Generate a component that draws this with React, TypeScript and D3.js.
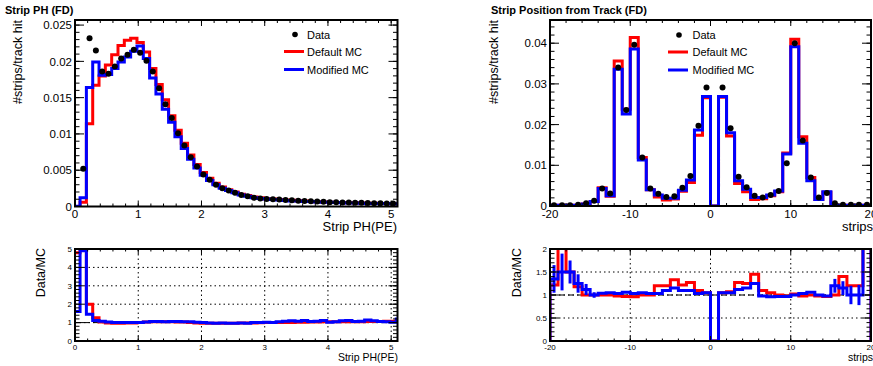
import React, { useEffect, useRef } from "react";
import * as d3 from "d3";

const W = 873;
const H = 366;
const FONT = "'Liberation Sans', Arial, Helvetica, sans-serif";

// ---------------- Strip PH (FD) ----------------
const phBinStart = -0.02;
const phBinWidth = 0.1;
const phData = [
  0.00005, 0.0052, 0.0232, 0.0215, 0.0186, 0.0183, 0.0193, 0.0204, 0.0209, 0.0216,
  0.0212, 0.0201, 0.0186, 0.0163, 0.0141, 0.0122, 0.0101, 0.0084, 0.0068, 0.0055,
  0.0044, 0.0037, 0.003, 0.0025, 0.0022, 0.0019, 0.0016, 0.0014, 0.0012, 0.0011,
  0.00105, 0.001, 0.00095, 0.0009, 0.00085, 0.0008, 0.00076, 0.00072, 0.00068, 0.00064,
  0.0006, 0.00058, 0.00056, 0.00054, 0.00052, 0.0005, 0.00048, 0.00046, 0.00044, 0.00042,
  0.0004, 0.0004,
];
const phDefault = [
  0.00001, 0.0006, 0.0114, 0.0167, 0.018, 0.0195, 0.0209, 0.0222, 0.0229, 0.0232,
  0.0226, 0.0213, 0.019, 0.0168, 0.0147, 0.0125, 0.0105, 0.0087, 0.0071, 0.0058,
  0.0047, 0.0039, 0.0032, 0.0027, 0.0023, 0.002, 0.0017, 0.0015, 0.0013, 0.0012,
  0.00108, 0.00102, 0.00096, 0.0009, 0.00085, 0.00079, 0.00075, 0.0007, 0.00066, 0.00062,
  0.00058, 0.00056, 0.00054, 0.00052, 0.0005, 0.00048, 0.00046, 0.00044, 0.00042, 0.0004,
  0.00038, 0.00037,
];
const phModified = [
  0.00003, 0.0012, 0.0164, 0.0199, 0.0181, 0.0182, 0.019, 0.0199, 0.0206, 0.0214,
  0.0221, 0.0204, 0.0177, 0.0155, 0.0134, 0.0116, 0.0096, 0.008, 0.0065, 0.0053,
  0.0043, 0.0036, 0.003, 0.0025, 0.0022, 0.0019, 0.0016, 0.0014, 0.0012, 0.0011,
  0.00103, 0.00098, 0.0009, 0.00083, 0.00077, 0.00075, 0.00068, 0.00068, 0.00063, 0.00058,
  0.00059, 0.00055, 0.00051, 0.00048, 0.00049, 0.00046, 0.00042, 0.00042, 0.00042, 0.0004,
  0.00039, 0.00033,
];
const phRatioDefault = [
  4.8, 5.5, 2.0, 1.27, 1.03, 0.98, 0.97, 0.97, 0.98, 0.98,
  1.0, 1.03, 1.05, 1.05, 1.04, 1.04, 1.03, 1.03, 1.0, 0.98,
  0.97, 0.96, 0.96, 0.97, 0.97, 0.97, 0.98, 0.98, 0.98, 0.99,
  1.0, 1.0, 1.0, 1.01, 1.01, 1.02, 1.02, 1.03, 1.03, 1.04,
  1.04, 1.04, 1.05, 1.05, 1.05, 1.05, 1.06, 1.06, 1.06, 1.07,
  1.07, 1.08,
];
const phRatioModified = [
  1.6, 4.9, 1.45, 1.12, 1.07, 1.03, 1.0, 1.0, 1.0, 1.01,
  1.0, 1.03, 1.06, 1.06, 1.05, 1.06, 1.06, 1.05, 1.04, 1.02,
  1.0, 0.98, 0.97, 0.98, 0.97, 0.96, 0.98, 0.97, 1.0, 1.0,
  1.02, 1.01, 1.05, 1.08, 1.1, 1.07, 1.12, 1.06, 1.08, 1.11,
  1.02, 1.05, 1.1, 1.12, 1.06, 1.08, 1.14, 1.1, 1.06, 1.04,
  1.02, 1.2,
];

// ---------------- Strip Position from Track (FD) ----------------
const stripBinStart = -20;
const stripBinWidth = 1;
const stripData = [
  0.0002, 0.0002, 0.0002, 0.0003, 0.0007, 0.0013, 0.0043, 0.0031, 0.034, 0.0236,
  0.0396, 0.0119, 0.0043, 0.003, 0.0022, 0.0024, 0.0045, 0.0074, 0.0197, 0.0291,
  0.0, 0.0291, 0.0191, 0.0072, 0.0046, 0.0025, 0.0021, 0.0027, 0.0037, 0.0105,
  0.04, 0.0161, 0.007, 0.0021, 0.0032, 0.0007, 0.0003, 0.0003, 0.0003, 0.0003,
];
const stripDefault = [
  0.0002, 0.0002, 0.0002, 0.0002, 0.0005, 0.0011, 0.0045, 0.0024, 0.0356, 0.0238,
  0.0414, 0.0119, 0.004, 0.0022, 0.0015, 0.0017, 0.0036, 0.0058, 0.0174, 0.0266,
  0.0, 0.0267, 0.0172, 0.0055, 0.0035, 0.0016, 0.0018, 0.0025, 0.0035, 0.013,
  0.041, 0.017, 0.007, 0.0016, 0.0034, 0.0002, 0.0002, 0.0002, 0.0002, 0.0002,
];
const stripModified = [
  0.0002, 0.0002, 0.0002, 0.0002, 0.0005, 0.0011, 0.0043, 0.0025, 0.0336, 0.0226,
  0.0386, 0.0113, 0.004, 0.0027, 0.0019, 0.0019, 0.0039, 0.0064, 0.0187, 0.0269,
  0.0, 0.0269, 0.018, 0.0062, 0.0041, 0.0021, 0.0021, 0.0027, 0.0037, 0.0128,
  0.0391, 0.0154, 0.0062, 0.0016, 0.0035, 0.0002, 0.0002, 0.0002, 0.0002, 0.0002,
];
const stripRatioDefault = [
  1.22, 2.3, 1.5, 1.18, 1.0, 1.0, 1.0, 1.0, 0.98, 0.97,
  0.96, 1.0, 1.0, 1.2, 1.2, 1.33, 1.22, 1.27, 1.1, 1.05,
  0.0, 1.05, 1.07, 1.27, 1.25, 1.45, 1.1, 1.05, 1.0, 0.98,
  1.02, 0.98, 1.0, 0.98, 0.97, 1.0, 1.4, 1.2, 1.2, 2.3,
];
const stripRatioModified = [
  1.35, 1.5, 1.5, 1.25, 1.12, 1.0, 1.04, 1.05, 1.03, 1.06,
  1.03, 1.05, 1.03, 1.03, 1.1, 1.15, 1.1, 1.1, 1.03, 1.05,
  0.0, 1.05, 1.05, 1.12, 1.15, 1.25, 0.98, 0.96, 0.97, 0.97,
  1.0, 1.03, 1.06, 1.0, 0.98, 1.2, 1.15, 1.0, 1.0, 2.3,
];
const stripRatioModifiedErr = [
  0.3, 0.4, 0.25, 0.2, 0.12, 0.06, 0.03, 0.03, 0.02, 0.02,
  0.02, 0.02, 0.03, 0.03, 0.03, 0.03, 0.03, 0.03, 0.02, 0.02,
  0.0, 0.02, 0.02, 0.03, 0.03, 0.03, 0.03, 0.03, 0.03, 0.02,
  0.02, 0.02, 0.03, 0.04, 0.04, 0.15, 0.15, 0.2, 0.22, 0.0,
];

const RED = "#ff0000";
const BLUE = "#0000ff";

type Scale = d3.ScaleLinear<number, number>;

function binEdges(start: number, width: number, n: number) {
  return d3.range(n + 1).map((i) => start + i * width);
}

function stepPath(x: Scale, y: Scale, e: number[], v: number[]) {
  let p = `M${x(e[0])},${y(0)}`;
  v.forEach((val, i) => {
    p += `L${x(e[i])},${y(val)}L${x(e[i + 1])},${y(val)}`;
  });
  p += `L${x(e[e.length - 1])},${y(0)}`;
  return p;
}

function ticksOf(lo: number, hi: number, step: number) {
  const out: number[] = [];
  const n = Math.floor((hi - lo) / step + 1e-6);
  for (let i = 0; i <= n; i++) out.push(+(lo + i * step).toFixed(6));
  return out;
}

interface FrameOpts {
  id: string;
  xMajor: number[];
  xMinor: number[];
  yMajor: number[];
  yMinor: number[];
  xMajLen: number;
  xMinLen: number;
  yMajLen: number;
  yMinLen: number;
  xLabelSize: number;
  yLabelSize: number;
  xLabelBaseline: number;
  grid?: boolean;
  refLine?: number;
  yFmt: (v: number) => string;
}

function drawAxes(g: d3.Selection<SVGGElement, unknown, null, undefined>, x: Scale, y: Scale, o: FrameOpts) {
  const [X0, X1] = x.range();
  const [Y0, Y1] = y.range(); // Y0 bottom, Y1 top
  const t = g.append("g").attr("stroke", "#000").attr("stroke-width", 1);
  const addX = (vals: number[], len: number) => {
    vals.forEach((v) => {
      const px = x(v);
      if (px < X0 - 0.1 || px > X1 + 0.1) return;
      t.append("line").attr("x1", px).attr("x2", px).attr("y1", Y0).attr("y2", Y0 - len);
      t.append("line").attr("x1", px).attr("x2", px).attr("y1", Y1).attr("y2", Y1 + len);
    });
  };
  const addY = (vals: number[], len: number) => {
    vals.forEach((v) => {
      const py = y(v);
      if (py > Y0 + 0.1 || py < Y1 - 0.1) return;
      t.append("line").attr("x1", X0).attr("x2", X0 + len).attr("y1", py).attr("y2", py);
      t.append("line").attr("x1", X1).attr("x2", X1 - len).attr("y1", py).attr("y2", py);
    });
  };
  addX(o.xMinor, o.xMinLen);
  addX(o.xMajor, o.xMajLen);
  addY(o.yMinor, o.yMinLen);
  addY(o.yMajor, o.yMajLen);

  // tick labels
  g.append("g")
    .selectAll("text")
    .data(o.xMajor)
    .join("text")
    .attr("x", (d) => x(d))
    .attr("y", o.xLabelBaseline)
    .attr("text-anchor", "middle")
    .attr("font-family", FONT)
    .attr("font-size", o.xLabelSize)
    .attr("fill", "#000")
    .text((d) => String(d));
  g.append("g")
    .selectAll("text")
    .data(o.yMajor)
    .join("text")
    .attr("x", X0 - 3)
    .attr("y", (d) => y(d) + o.yLabelSize * 0.36)
    .attr("text-anchor", "end")
    .attr("font-family", FONT)
    .attr("font-size", o.yLabelSize)
    .attr("fill", "#000")
    .text((d) => o.yFmt(d));
}

function drawGrid(g: d3.Selection<SVGGElement, unknown, null, undefined>, x: Scale, y: Scale, o: FrameOpts) {
  const [X0, X1] = x.range();
  const [Y0, Y1] = y.range();
  const gg = g.append("g").attr("stroke", "#000").attr("stroke-width", 1).attr("stroke-dasharray", "1.5,3");
  o.xMajor.forEach((v) => {
    const px = x(v);
    if (px <= X0 + 1 || px > X1 + 0.1) return;
    gg.append("line").attr("x1", px).attr("x2", px).attr("y1", Y0).attr("y2", Y1);
  });
  o.yMajor.forEach((v) => {
    const py = y(v);
    if (py >= Y0 - 1 || py <= Y1 + 1) return;
    gg.append("line").attr("x1", X0).attr("x2", X1).attr("y1", py).attr("y2", py);
  });
  if (o.refLine !== undefined) {
    g.append("line")
      .attr("x1", X0)
      .attr("x2", X1)
      .attr("y1", y(o.refLine))
      .attr("y2", y(o.refLine))
      .attr("stroke", "#000")
      .attr("stroke-width", 1)
      .attr("stroke-dasharray", "6,3");
  }
}

function drawFrameRect(g: d3.Selection<SVGGElement, unknown, null, undefined>, x: Scale, y: Scale) {
  const [X0, X1] = x.range();
  const [Y0, Y1] = y.range();
  g.append("rect")
    .attr("x", X0)
    .attr("y", Y1)
    .attr("width", X1 - X0)
    .attr("height", Y0 - Y1)
    .attr("fill", "none")
    .attr("stroke", "#000")
    .attr("stroke-width", 2);
}

function addClip(svg: d3.Selection<SVGSVGElement, unknown, null, undefined>, id: string, x: Scale, y: Scale) {
  const [X0, X1] = x.range();
  const [Y0, Y1] = y.range();
  svg
    .select("defs")
    .append("clipPath")
    .attr("id", id)
    .append("rect")
    .attr("x", X0)
    .attr("y", Y1)
    .attr("width", X1 - X0)
    .attr("height", Y0 - Y1);
}

function drawLegend(g: d3.Selection<SVGGElement, unknown, null, undefined>, lx: number, tx: number, y0: number) {
  const lg = g.append("g").attr("font-family", FONT).attr("font-size", 11);
  lg.append("circle").attr("cx", (lx + lx + 21) / 2 + 0.5).attr("cy", y0).attr("r", 2.8).attr("fill", "#000");
  lg.append("text").attr("x", tx).attr("y", y0 + 4).text("Data");
  lg.append("line").attr("x1", lx).attr("x2", lx + 20).attr("y1", y0 + 17).attr("y2", y0 + 17).attr("stroke", RED).attr("stroke-width", 3);
  lg.append("text").attr("x", tx).attr("y", y0 + 21).text("Default MC");
  lg.append("line").attr("x1", lx).attr("x2", lx + 20).attr("y1", y0 + 35).attr("y2", y0 + 35).attr("stroke", BLUE).attr("stroke-width", 3);
  lg.append("text").attr("x", tx).attr("y", y0 + 39).text("Modified MC");
}

function drawTopPanel(
  svg: d3.Selection<SVGSVGElement, unknown, null, undefined>,
  x: Scale,
  y: Scale,
  edges: number[],
  data: number[],
  def: number[],
  mod: number[],
  o: FrameOpts
) {
  const g = svg.append("g");
  addClip(svg, o.id, x, y);
  const plot = g.append("g").attr("clip-path", `url(#${o.id})`);
  plot.append("path").attr("d", stepPath(x, y, edges, def)).attr("fill", "none").attr("stroke", RED).attr("stroke-width", 3);
  plot.append("path").attr("d", stepPath(x, y, edges, mod)).attr("fill", "none").attr("stroke", BLUE).attr("stroke-width", 3);
  plot
    .append("g")
    .selectAll("circle")
    .data(data.map((v, i) => ({ v, c: (edges[i] + edges[i + 1]) / 2 })).filter((d) => d.v > 0.0001))
    .join("circle")
    .attr("cx", (d) => x(d.c))
    .attr("cy", (d) => y(d.v))
    .attr("r", 3)
    .attr("fill", "#000");
  drawAxes(g, x, y, o);
  drawFrameRect(g, x, y);
  return g;
}

function drawRatioPanel(
  svg: d3.Selection<SVGSVGElement, unknown, null, undefined>,
  x: Scale,
  y: Scale,
  edges: number[],
  rDef: number[],
  rMod: number[],
  rModErr: number[] | null,
  o: FrameOpts
) {
  const g = svg.append("g");
  addClip(svg, o.id, x, y);
  drawGrid(g, x, y, o);
  const plot = g.append("g").attr("clip-path", `url(#${o.id})`);
  plot.append("path").attr("d", stepPath(x, y, edges, rDef)).attr("fill", "none").attr("stroke", RED).attr("stroke-width", 3);
  plot.append("path").attr("d", stepPath(x, y, edges, rMod)).attr("fill", "none").attr("stroke", BLUE).attr("stroke-width", 3);
  if (rModErr) {
    plot
      .append("g")
      .selectAll("line")
      .data(rMod.map((v, i) => ({ v, e: rModErr[i], c: (edges[i] + edges[i + 1]) / 2 })).filter((d) => d.e > 0.05))
      .join("line")
      .attr("x1", (d) => x(d.c))
      .attr("x2", (d) => x(d.c))
      .attr("y1", (d) => y(d.v - d.e))
      .attr("y2", (d) => y(d.v + d.e))
      .attr("stroke", BLUE)
      .attr("stroke-width", 3);
  }
  drawAxes(g, x, y, o);
  drawFrameRect(g, x, y);
  return g;
}

function addText(
  svg: d3.Selection<SVGSVGElement, unknown, null, undefined>,
  txt: string,
  x: number,
  y: number,
  size: number,
  anchor: string,
  opts: { bold?: boolean; rotate?: boolean } = {}
) {
  const t = svg
    .append("text")
    .attr("font-family", FONT)
    .attr("font-size", size)
    .attr("text-anchor", anchor)
    .attr("fill", "#000")
    .text(txt);
  if (opts.bold) t.attr("font-weight", "bold");
  if (opts.rotate) t.attr("transform", `translate(${x},${y}) rotate(-90)`);
  else t.attr("x", x).attr("y", y);
}

export default function App() {
  const ref = useRef<SVGSVGElement | null>(null);

  useEffect(() => {
    if (!ref.current) return;
    const svg = d3.select(ref.current);
    svg.selectAll("*").remove();
    svg.append("defs");
    svg.append("rect").attr("width", W).attr("height", H).attr("fill", "#fff");

    const fmt = (v: number) => d3.format("~g")(+v.toFixed(6));

    // ---------- left top ----------
    const phEdges = binEdges(phBinStart, phBinWidth, phData.length);
    const xL = d3.scaleLinear().domain([0, 5.1]).range([75, 397.5]);
    const yLT = d3.scaleLinear().domain([0, 0.0257]).range([206.5, 20]);
    drawTopPanel(svg, xL, yLT, phEdges, phData, phDefault, phModified, {
      id: "clipLT",
      xMajor: ticksOf(0, 5, 1),
      xMinor: ticksOf(0, 5.1, 0.2),
      yMajor: ticksOf(0, 0.025, 0.005),
      yMinor: ticksOf(0, 0.0257, 0.001),
      xMajLen: 6,
      xMinLen: 3,
      yMajLen: 9,
      yMinLen: 4.5,
      xLabelSize: 11.5,
      yLabelSize: 11.5,
      xLabelBaseline: 218,
      yFmt: fmt,
    });
    const gLeg1 = svg.append("g");
    drawLegend(gLeg1, 284, 307, 34.5);

    // ---------- right top ----------
    const stEdges = binEdges(stripBinStart, stripBinWidth, stripData.length);
    const xR = d3.scaleLinear().domain([-20, 20]).range([550, 871]);
    const yRT = d3.scaleLinear().domain([0, 0.0457]).range([206, 20]);
    drawTopPanel(svg, xR, yRT, stEdges, stripData, stripDefault, stripModified, {
      id: "clipRT",
      xMajor: ticksOf(-20, 20, 10),
      xMinor: ticksOf(-20, 20, 2),
      yMajor: ticksOf(0, 0.04, 0.01),
      yMinor: ticksOf(0, 0.0457, 0.002),
      xMajLen: 6,
      xMinLen: 3,
      yMajLen: 9,
      yMinLen: 4.5,
      xLabelSize: 11.5,
      yLabelSize: 11.5,
      xLabelBaseline: 218,
      yFmt: fmt,
    });
    const gLeg2 = svg.append("g");
    drawLegend(gLeg2, 668, 692.5, 35);

    // ---------- left ratio ----------
    const yLB = d3.scaleLinear().domain([0, 5]).range([341, 249]);
    drawRatioPanel(svg, xL, yLB, phEdges, phRatioDefault, phRatioModified, null, {
      id: "clipLB",
      xMajor: ticksOf(0, 5, 1),
      xMinor: ticksOf(0, 5.1, 0.2),
      yMajor: ticksOf(0, 5, 1),
      yMinor: ticksOf(0, 5, 0.2),
      xMajLen: 5,
      xMinLen: 2.5,
      yMajLen: 9,
      yMinLen: 4.5,
      xLabelSize: 8,
      yLabelSize: 8,
      xLabelBaseline: 350,
      grid: true,
      refLine: 1,
      yFmt: fmt,
    });

    // ---------- right ratio ----------
    const yRB = d3.scaleLinear().domain([0, 2]).range([341, 249]);
    drawRatioPanel(svg, xR, yRB, stEdges, stripRatioDefault, stripRatioModified, stripRatioModifiedErr, {
      id: "clipRB",
      xMajor: ticksOf(-20, 20, 10),
      xMinor: ticksOf(-20, 20, 2),
      yMajor: ticksOf(0, 2, 0.5),
      yMinor: ticksOf(0, 2, 0.1),
      xMajLen: 5,
      xMinLen: 2.5,
      yMajLen: 9,
      yMinLen: 4.5,
      xLabelSize: 8,
      yLabelSize: 8,
      xLabelBaseline: 350,
      grid: true,
      refLine: 1,
      yFmt: fmt,
    });

    // ---------- titles ----------
    addText(svg, "Strip PH (FD)", 5, 13.5, 11, "start", { bold: true });
    addText(svg, "Strip Position from Track (FD)", 491, 13.5, 11, "start", { bold: true });
    addText(svg, "#strips/track hit", 22, 20, 12.5, "end", { rotate: true });
    addText(svg, "#strips/track hit", 498, 20, 12.5, "end", { rotate: true });
    addText(svg, "Strip PH(PE)", 397, 231, 13, "end");
    addText(svg, "strips", 873, 231, 13, "end");
    addText(svg, "Data/MC", 45, 248, 12.5, "end", { rotate: true });
    addText(svg, "Data/MC", 521, 248, 12.5, "end", { rotate: true });
    addText(svg, "Strip PH(PE)", 398, 361, 10.5, "end");
    addText(svg, "strips", 873, 361, 10.5, "end");
  }, []);

  return (
    <svg
      ref={ref}
      width={W}
      height={H}
      style={{ position: "absolute", left: 0, top: 0, display: "block" }}
    />
  );
}
